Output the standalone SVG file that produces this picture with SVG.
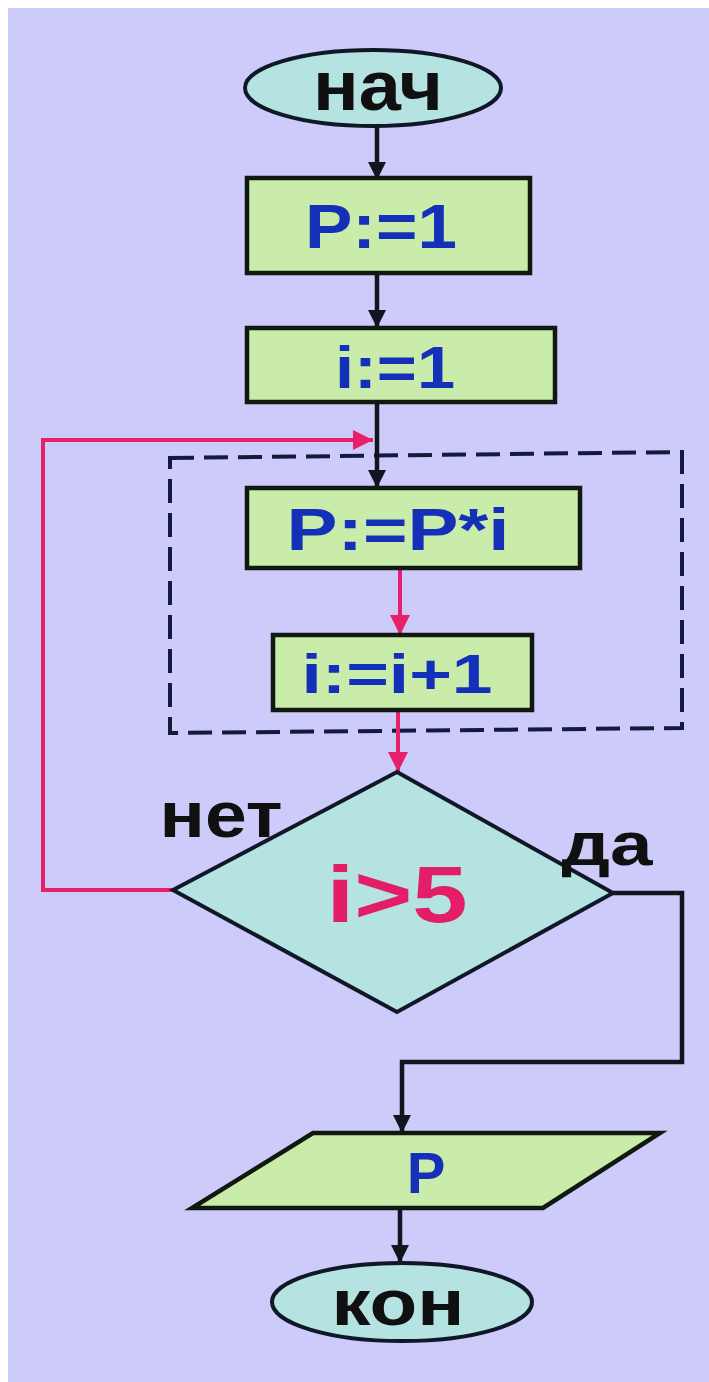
<svg xmlns="http://www.w3.org/2000/svg" width="709" height="1382" viewBox="0 0 709 1382">
<defs>
<style>
.bg{fill:#cdcbf9}
.term{fill:#b5e3e2;stroke:#101828;stroke-width:4}
.proc{fill:#c9ecaa;stroke:#101810;stroke-width:4.5}
.dec{fill:#b5e3e2;stroke:#101828;stroke-width:4}
.blk{fill:none;stroke:#101520;stroke-width:4.5}
.pnk{fill:none;stroke:#e8206c;stroke-width:4}
.dash{fill:none;stroke:#151a3a;stroke-width:4;stroke-dasharray:24 10}
.t{font-family:"Liberation Sans",Arial,sans-serif;font-weight:bold;text-anchor:middle}
.tb{fill:#101010}
.tblue{fill:#1430b8}
.tpink{fill:#e41e66}
</style>
<marker id="ab" markerWidth="20" markerHeight="20" refX="18" refY="9" orient="auto" markerUnits="userSpaceOnUse">
<path d="M0,0 L18,9 L0,18 Z" fill="#101520"/>
</marker>
<marker id="ap" markerWidth="22" markerHeight="22" refX="20" refY="10" orient="auto" markerUnits="userSpaceOnUse">
<path d="M0,0 L20,10 L0,20 Z" fill="#e8206c"/>
</marker>
</defs>
<rect x="0" y="0" width="709" height="1382" fill="#ffffff"/>
<rect class="bg" x="8" y="8" width="701" height="1374"/>
<g id="loop-frame">
<path class="dash" d="M170,458 L682,452 L682,728 L170,733 Z"/>
</g>
<g id="connectors">
<path class="blk" d="M377,127 V180" marker-end="url(#ab)"/>
<path class="blk" d="M377,273 V328" marker-end="url(#ab)"/>
<path class="blk" d="M377,402 V488" marker-end="url(#ab)"/>
<path class="pnk" d="M400,568 V635" marker-end="url(#ap)"/>
<path class="pnk" d="M398,710 V772" marker-end="url(#ap)"/>
<path class="pnk" d="M173,890 H43 V440 H373" marker-end="url(#ap)"/>
<path class="blk" d="M613,893 H682 V1062 H402 V1133" marker-end="url(#ab)"/>
<path class="blk" d="M400,1208 V1263" marker-end="url(#ab)"/>
</g>
<g id="start">
<ellipse class="term" cx="373" cy="88" rx="128" ry="38"/>
<text class="t tb" x="378" y="110" font-size="70" textLength="130" lengthAdjust="spacingAndGlyphs">нач</text>
</g>
<g id="p-init">
<rect class="proc" x="247" y="178" width="283" height="95"/>
<text class="t tblue" x="381" y="248" font-size="63" textLength="152" lengthAdjust="spacingAndGlyphs">P:=1</text>
</g>
<g id="i-init">
<rect class="proc" x="247" y="328" width="308" height="74"/>
<text class="t tblue" x="395" y="388" font-size="60" textLength="120" lengthAdjust="spacingAndGlyphs">i:=1</text>
</g>
<g id="p-mult">
<rect class="proc" x="247" y="488" width="333" height="80"/>
<text class="t tblue" x="398" y="550" font-size="60" textLength="223" lengthAdjust="spacingAndGlyphs">P:=P*i</text>
</g>
<g id="i-inc">
<rect class="proc" x="273" y="635" width="259" height="75"/>
<text class="t tblue" x="397" y="693" font-size="56" textLength="191" lengthAdjust="spacingAndGlyphs">i:=i+1</text>
</g>
<g id="cond">
<polygon class="dec" points="397,772 613,893 397,1012 173,890"/>
<text class="t tpink" x="397" y="922" font-size="80" textLength="141" lengthAdjust="spacingAndGlyphs">i&gt;5</text>
</g>
<g id="labels">
<text class="t tb" x="221" y="837" font-size="64" textLength="123" lengthAdjust="spacingAndGlyphs">нет</text>
<text class="t tb" x="607" y="865" font-size="62" textLength="91" lengthAdjust="spacingAndGlyphs">да</text>
</g>
<g id="output">
<polygon class="proc" points="313,1133 660,1133 543,1208 192,1208"/>
<text class="t tblue" x="426" y="1193" font-size="58">P</text>
</g>
<g id="end">
<ellipse class="term" cx="402" cy="1302" rx="130" ry="39"/>
<text class="t tb" x="398" y="1325" font-size="64" textLength="133" lengthAdjust="spacingAndGlyphs">кон</text>
</g>
</svg>
